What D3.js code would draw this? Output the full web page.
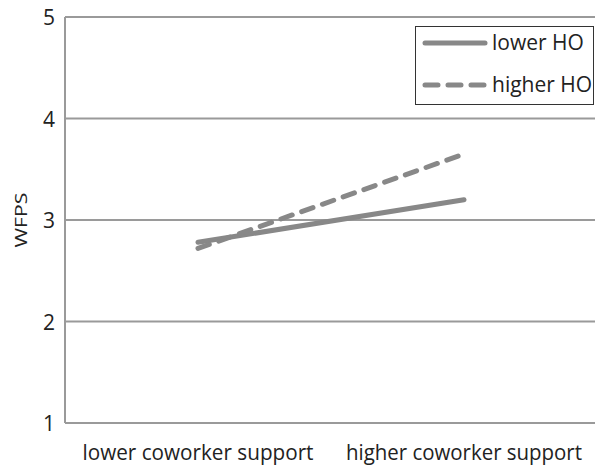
<!DOCTYPE html>
<html>
<head>
<meta charset="utf-8">
<script src="https://cdn.jsdelivr.net/npm/d3@7"></script>
<style>
  body { margin: 0; background: #fff; }
  text { font-family: "Open Sans", "Liberation Sans", sans-serif; fill: #222; }
</style>
</head>
<body>
<div id="chart"></div>
<script>
const categories = ["lower coworker support", "higher coworker support"];
const lowerHO = [2.78, 3.2];
const higherHO = [2.72, 3.65];
const seriesNames = ["lower HO", "higher HO"];
const yTicks = [1, 2, 3, 4, 5];

const W = 595, H = 470;
const margin = { top: 17, right: -2, bottom: 47, left: 65 };

const svg = d3.select('#chart')
  .append('svg')
  .attr('width', W)
  .attr('height', H);

const x = d3.scaleBand()
  .domain(categories)
  .range([margin.left, W - margin.right]);

const y = d3.scaleLinear()
  .domain([1, 5])
  .range([H - margin.bottom, margin.top]);

// gridlines
svg.selectAll('line.grid')
  .data(yTicks)
  .enter()
  .append('line')
  .attr('class', 'grid')
  .attr('x1', margin.left)
  .attr('x2', W)
  .attr('y1', d => y(d))
  .attr('y2', d => y(d))
  .attr('stroke', '#9a9a9a')
  .attr('stroke-width', 2);

// left axis line
svg.append('line')
  .attr('x1', margin.left).attr('x2', margin.left)
  .attr('y1', y(5)).attr('y2', y(1))
  .attr('stroke', '#9a9a9a')
  .attr('stroke-width', 2);

// y tick labels
svg.selectAll('text.ytick')
  .data(yTicks)
  .enter()
  .append('text')
  .attr('class', 'ytick')
  .attr('x', 55)
  .attr('y', d => y(d) + 8)
  .attr('text-anchor', 'end')
  .attr('font-size', 21)
  .text(d => d);

svg.append('text')
  .attr('transform', `translate(27, ${y(3)}) rotate(-90)`)
  .attr('text-anchor', 'middle')
  .attr('font-size', 17)
  .attr('textLength', 55)
  .attr('lengthAdjust', 'spacingAndGlyphs')
  .text('WFPS');

// x labels
svg.selectAll('text.xlab')
  .data(categories)
  .enter()
  .append('text')
  .attr('class', 'xlab')
  .attr('x', d => x(d) + x.bandwidth() / 2)
  .attr('y', 460)
  .attr('text-anchor', 'middle')
  .attr('font-size', 22)
  .attr('textLength', (d, i) => i === 0 ? 231 : 236)
  .attr('lengthAdjust', 'spacingAndGlyphs')
  .text(d => d);

const line = d3.line()
  .x((d, i) => x(categories[i]) + x.bandwidth() / 2)
  .y(d => y(d));

svg.append('path')
  .datum(lowerHO)
  .attr('d', line)
  .attr('fill', 'none')
  .attr('stroke', '#888')
  .attr('stroke-width', 5)
  .attr('stroke-linecap', 'round');

svg.append('path')
  .datum(higherHO)
  .attr('d', line)
  .attr('fill', 'none')
  .attr('stroke', '#888')
  .attr('stroke-width', 5)
  .attr('stroke-dasharray', '12,10')
  .attr('stroke-linecap', 'round');

// legend
const lg = svg.append('g');
lg.append('rect')
  .attr('x', 415.5).attr('y', 26.5)
  .attr('width', 178).attr('height', 78)
  .attr('fill', '#fff')
  .attr('stroke', '#333')
  .attr('stroke-width', 1);

const dashes = [null, '13,10'];
seriesNames.forEach((name, i) => {
  const ly = 43 + i * 42;
  lg.append('line')
    .attr('x1', 425).attr('x2', 485)
    .attr('y1', ly).attr('y2', ly)
    .attr('stroke', '#888')
    .attr('stroke-width', 5)
    .attr('stroke-linecap', 'round')
    .attr('stroke-dasharray', dashes[i]);
  lg.append('text')
    .attr('x', 492)
    .attr('y', ly + 7)
    .attr('font-size', 21)
    .text(name);
});
</script>
</body>
</html>
